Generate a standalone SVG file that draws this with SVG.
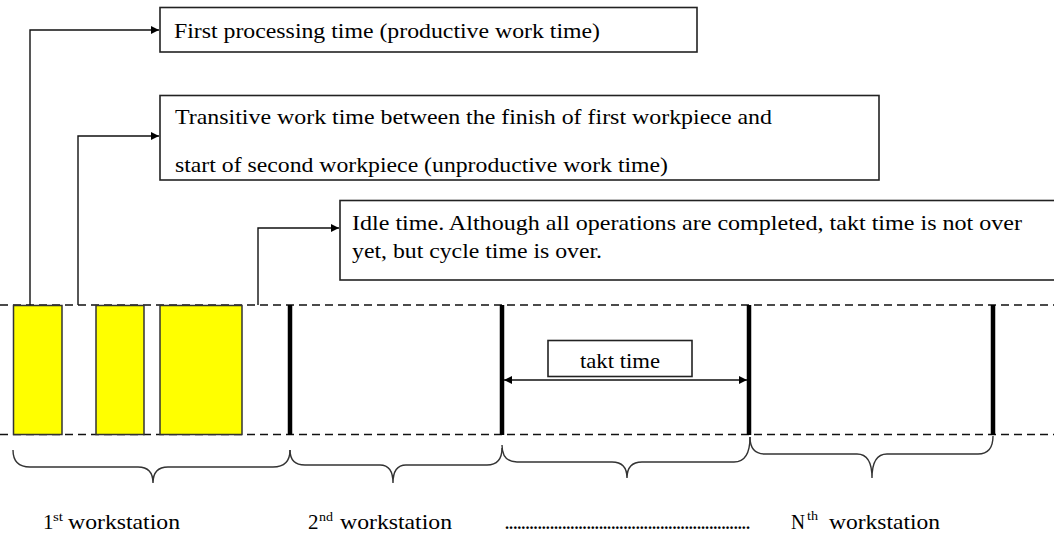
<svg xmlns="http://www.w3.org/2000/svg" width="1054" height="535" viewBox="0 0 1054 535">
<defs>
<marker id="ah" viewBox="0 0 10 10" refX="10" refY="5" markerWidth="10" markerHeight="8" markerUnits="userSpaceOnUse" orient="auto-start-reverse">
<path d="M0,0 L10,5 L0,10 z" fill="#000"/>
</marker>
<style>
.box{fill:#fff;stroke:#222;stroke-width:1.6}
.t{font-family:"Liberation Serif","Times New Roman","DejaVu Serif",serif;font-size:21px;fill:#000}
.sup{font-family:"Liberation Serif","Times New Roman","DejaVu Serif",serif;font-size:12px;fill:#000}
.conn{fill:none;stroke:#111;stroke-width:1.4}
.dash{stroke:#111;stroke-width:1.4;stroke-dasharray:8 5}
.bar{stroke:#000;stroke-width:4.5}
.work{fill:#ffff00;stroke:#333;stroke-width:1.5}
.brace{fill:none;stroke:#333;stroke-width:1.4}
</style>
</defs>
<rect width="1054" height="535" fill="#fff"/>

<g id="timeline">
<line class="dash" x1="0" y1="305" x2="1054" y2="305"/>
<line class="dash" x1="0" y1="434.5" x2="1054" y2="434.5"/>
</g>

<g id="work1"><rect class="work" x="13.5" y="305.5" width="48.5" height="129"/></g>
<g id="work2"><rect class="work" x="96" y="305.5" width="48" height="129"/></g>
<g id="work3"><rect class="work" x="160" y="305.5" width="82" height="129"/></g>

<g id="bars">
<line class="bar" x1="290" y1="305" x2="290" y2="435"/>
<line class="bar" x1="502" y1="305" x2="502" y2="435"/>
<line class="bar" x1="749" y1="305" x2="749" y2="435"/>
<line class="bar" x1="993" y1="305" x2="993" y2="435"/>
</g>

<g id="box-first">
<rect class="box" x="160" y="7.5" width="537" height="44.5"/>
<text class="t" x="174" y="38" textLength="426" lengthAdjust="spacingAndGlyphs">First processing time (productive work time)</text>
</g>

<g id="box-transitive">
<rect class="box" x="160" y="95.5" width="719" height="84.5"/>
<text class="t" x="175" y="124" textLength="597" lengthAdjust="spacingAndGlyphs">Transitive work time between the finish of first workpiece and</text>
<text class="t" x="175" y="172" textLength="493" lengthAdjust="spacingAndGlyphs">start of second workpiece (unproductive work time)</text>
</g>

<g id="box-idle">
<rect class="box" x="340" y="200.5" width="730" height="79.5"/>
<text class="t" x="352" y="230" textLength="670" lengthAdjust="spacingAndGlyphs">Idle time. Although all operations are completed, takt time is not over</text>
<text class="t" x="352" y="258" textLength="250" lengthAdjust="spacingAndGlyphs">yet, but cycle time is over.</text>
</g>

<g id="box-takt">
<rect class="box" x="548" y="340.5" width="144" height="36"/>
<text class="t" x="580" y="368" textLength="80" lengthAdjust="spacingAndGlyphs">takt time</text>
</g>

<g id="connectors">
<path class="conn" d="M30,305 V30 H159" marker-end="url(#ah)"/>
<path class="conn" d="M78,305 V136 H159" marker-end="url(#ah)"/>
<path class="conn" d="M258,305 V228 H339" marker-end="url(#ah)"/>
<path class="conn" d="M504,380 H747" marker-start="url(#ah)" marker-end="url(#ah)"/>
</g>

<g id="braces">
<path class="brace" d="M13,450 Q13,467 30,467 L138,467 Q153,467 153,483 Q153,467 168,467 L273,467 Q290,467 290,450"/>
<path class="brace" d="M290,450 Q290,465 305,465 L380,465 Q393,465 393,483 Q393,465 406,465 L487,465 Q502,465 502,448"/>
<path class="brace" d="M502,445 Q502,462 517,462 L612,462 Q627,462 627,478 Q627,462 642,462 L734,462 Q750,462 750,437"/>
<path class="brace" d="M750,437 Q750,454 765,454 L857,454 Q872,454 872,478 Q872,454 887,454 L978,454 Q993,454 993,436"/>
</g>

<g id="labels">
<text class="t" x="43" y="529">1</text><text class="sup" x="53" y="521" textLength="10" lengthAdjust="spacingAndGlyphs">st</text>
<text class="t" x="68" y="529" textLength="112" lengthAdjust="spacingAndGlyphs">workstation</text>
<text class="t" x="308" y="529">2</text><text class="sup" x="319" y="521" textLength="14" lengthAdjust="spacingAndGlyphs">nd</text>
<text class="t" x="340" y="529" textLength="112" lengthAdjust="spacingAndGlyphs">workstation</text>
<text class="t" x="505" y="529" style="font-size:16px;font-weight:bold" textLength="245" lengthAdjust="spacingAndGlyphs">............................................................</text>
<text class="t" x="791" y="529" textLength="14" lengthAdjust="spacingAndGlyphs">N</text><text class="sup" x="807" y="520" textLength="11" lengthAdjust="spacingAndGlyphs">th</text>
<text class="t" x="829" y="529" textLength="111" lengthAdjust="spacingAndGlyphs">workstation</text>
</g>
</svg>
